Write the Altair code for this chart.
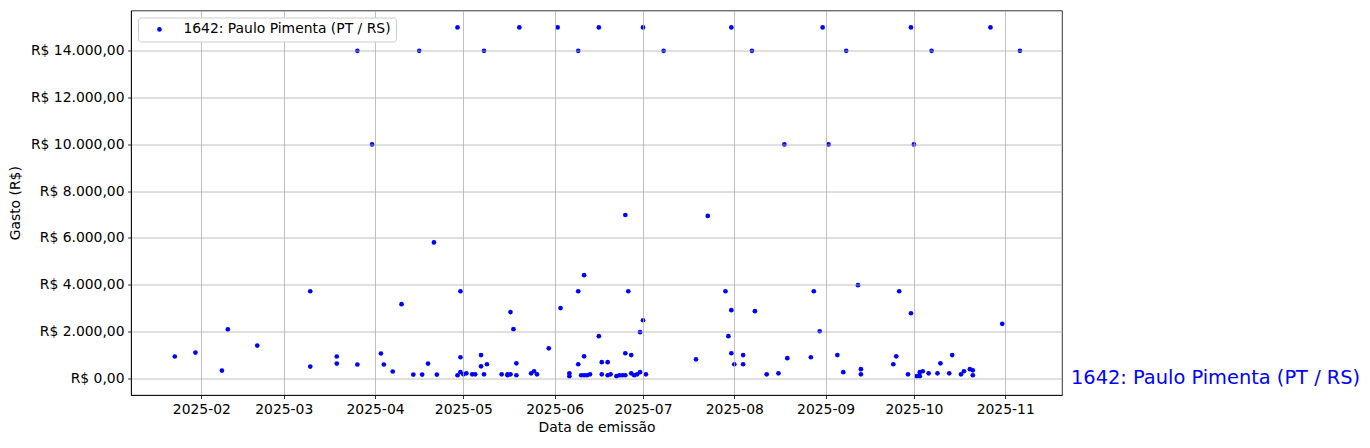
import altair as alt
import pandas as pd

series_name = "1642: Paulo Pimenta (PT / RS)"

dates = [
    "2025-01-23", "2025-01-30", "2025-02-08", "2025-02-10", "2025-02-20",
    "2025-03-10", "2025-03-10", "2025-03-19", "2025-03-19", "2025-03-26", "2025-03-26", "2025-03-31",
    "2025-04-03", "2025-04-04", "2025-04-07", "2025-04-10", "2025-04-14", "2025-04-16", "2025-04-17",
    "2025-04-19", "2025-04-21", "2025-04-22",
    "2025-04-29", "2025-04-29", "2025-04-30", "2025-04-30", "2025-04-30",
    "2025-05-01", "2025-05-02", "2025-05-04", "2025-05-05", "2025-05-07", "2025-05-07", "2025-05-08",
    "2025-05-08", "2025-05-09",
    "2025-05-14", "2025-05-16", "2025-05-16", "2025-05-17", "2025-05-17", "2025-05-18", "2025-05-19",
    "2025-05-19", "2025-05-20",
    "2025-05-24", "2025-05-25", "2025-05-26", "2025-05-30",
    "2025-06-02", "2025-06-03", "2025-06-06", "2025-06-06", "2025-06-09", "2025-06-09", "2025-06-09",
    "2025-06-10", "2025-06-11", "2025-06-11", "2025-06-11", "2025-06-12", "2025-06-13",
    "2025-06-16", "2025-06-16", "2025-06-17", "2025-06-17", "2025-06-19", "2025-06-19", "2025-06-20",
    "2025-06-22", "2025-06-23", "2025-06-24",
    "2025-06-25", "2025-06-25", "2025-06-25", "2025-06-26", "2025-06-27", "2025-06-27", "2025-06-28",
    "2025-06-29", "2025-06-30", "2025-06-30",
    "2025-07-01", "2025-07-01", "2025-07-02", "2025-07-08", "2025-07-19", "2025-07-23", "2025-07-29",
    "2025-07-30", "2025-07-31", "2025-07-31", "2025-07-31",
    "2025-08-01", "2025-08-04", "2025-08-04", "2025-08-07", "2025-08-08", "2025-08-12", "2025-08-16",
    "2025-08-18", "2025-08-19", "2025-08-27", "2025-08-28", "2025-08-30", "2025-08-31",
    "2025-09-02", "2025-09-05", "2025-09-07", "2025-09-08", "2025-09-12", "2025-09-13", "2025-09-13",
    "2025-09-24", "2025-09-25", "2025-09-26", "2025-09-29", "2025-09-30", "2025-09-30",
    "2025-10-01", "2025-10-02", "2025-10-03", "2025-10-03", "2025-10-04", "2025-10-06", "2025-10-07",
    "2025-10-09", "2025-10-10", "2025-10-13", "2025-10-14", "2025-10-17", "2025-10-18", "2025-10-20",
    "2025-10-21", "2025-10-21", "2025-10-27", "2025-10-31", "2025-11-06",
]

values = [
    930, 1100, 330, 2090, 1400,
    3720, 500, 930, 630, 14000, 590, 10000,
    1060, 590, 290, 3170, 160, 14000, 160,
    630, 5810, 160,
    15000, 130, 3720, 900, 260,
    170, 210, 170, 170, 990, 510, 14000,
    170, 600,
    170, 130, 170, 2830, 170, 2100, 640,
    130, 15000,
    210, 300, 170, 1280,
    15000, 3000, 210, 90, 14000, 3720, 600,
    130, 130, 4410, 940, 130, 170,
    15000, 1800, 170, 690, 690, 130, 170,
    90, 130, 130,
    6980, 1070, 130, 3720, 990, 210, 130,
    170, 1970, 260,
    15000, 2480, 170, 14000, 810, 6940, 3720,
    1800, 15000, 2910, 1070,
    600, 990, 600, 14000, 2870, 170, 210,
    10000, 860, 900, 3720, 2010, 15000,
    10000, 990, 260, 14000, 3980, 390, 170,
    600, 940, 3720, 170, 15000, 2780,
    10000, 90, 90, 260, 300, 210, 14000,
    210, 640, 210, 990, 170, 300, 390,
    340, 130, 15000, 2330, 14000,
]

y_ticks = [0, 2000, 4000, 6000, 8000, 10000, 12000, 14000]
month_ticks = [2, 3, 4, 5, 6, 7, 8, 9, 10, 11]

df = pd.DataFrame({"data": dates, "gasto": values, "serie": series_name})
label_df = pd.DataFrame({"gasto": [0], "serie": [series_name]})

FONT = "DejaVu Sans"
BLUE = "#0000ff"

x_scale = alt.Scale(
    type="utc",
    domain=[
        alt.DateTime(year=2025, month=1, date=8, hours=3, utc=True),
        alt.DateTime(year=2025, month=11, date=20, hours=7, utc=True),
    ],
    nice=False,
)
y_scale = alt.Scale(domain=[-715, 15725], nice=False, zero=False)

label_expr = (
    "'R$ ' + replace(replace(replace(format(datum.value, ',.2f'), ',', '_'), '.', ','), '_', '.')"
)

points = alt.Chart(df).mark_circle(size=22, opacity=1).encode(
    x=alt.X(
        "data:T",
        scale=x_scale,
        axis=alt.Axis(
            values=[alt.DateTime(year=2025, month=m, date=1, utc=True) for m in month_ticks],
            format="%Y-%m",
            title="Data de emissão",
            titlePadding=5,
            zindex=1,
        ),
    ),
    y=alt.Y(
        "gasto:Q",
        scale=y_scale,
        axis=alt.Axis(
            values=y_ticks,
            labelExpr=label_expr,
            title="Gasto (R$)",
            titlePadding=8,
            zindex=1,
        ),
    ),
    color=alt.Color(
        "serie:N",
        scale=alt.Scale(domain=[series_name], range=[BLUE]),
        legend=alt.Legend(
            title=None,
            orient="top-left",
            offset=7,
            padding=5,
            symbolOffset=9.5,
            labelOffset=17,
            labelLimit=0,
            strokeColor="#cccccc",
            fillColor="white",
            cornerRadius=3,
            labelFont=FONT,
            labelFontSize=13.9,
            labelColor="black",
            symbolSize=22,
            symbolType="circle",
            symbolStrokeWidth=0,
            zindex=2,
        ),
    ),
)

text = alt.Chart(label_df).mark_text(
    align="left", baseline="middle", fontSize=19.4, font=FONT, color=BLUE
).encode(
    x=alt.value(940),
    y=alt.Y("gasto:Q", scale=y_scale),
    text="serie:N",
)

chart = (
    alt.layer(points, text)
    .properties(
        width=931,
        height=384.5,
        padding={"left": 123, "top": 2.5, "right": 300, "bottom": 45},
        autosize=alt.AutoSizeParams(type="none"),
    )
    .configure_view(stroke="black", strokeWidth=0.8)
    .configure_axis(
        gridColor="#b0b0b0",
        gridWidth=0.8,
        domainColor="black",
        domainWidth=0.8,
        tickColor="black",
        tickSize=3.5,
        tickWidth=0.8,
        labelFont=FONT,
        labelFontSize=13.9,
        labelColor="black",
        labelPadding=3.5,
        titleFont=FONT,
        titleFontSize=13.9,
        titleFontWeight="normal",
        titleColor="black",
    )
)

chart.save("out.html", embed_options={"renderer": "svg", "actions": False})
